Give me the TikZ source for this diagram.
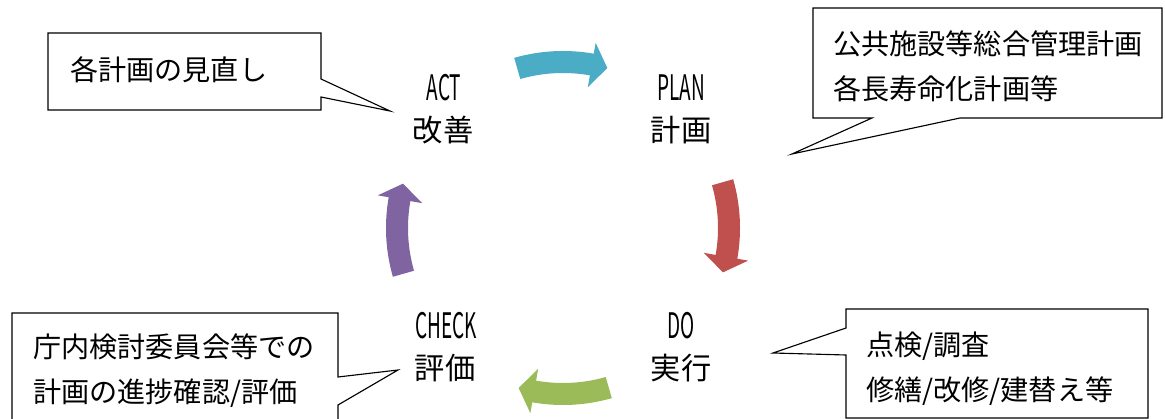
\documentclass[tikz,border=0pt]{standalone}
\usepackage{fontspec}
\newfontfamily\jpfont{Noto Sans CJK JP}
\newfontfamily\phasefont[FakeStretch=0.54]{Noto Sans CJK JP}
\definecolor{actcol}{HTML}{4BACC6}
\definecolor{plancol}{HTML}{C0504D}
\definecolor{docol}{HTML}{9BBB59}
\definecolor{checkcol}{HTML}{8064A2}
\tikzset{callout/.style={draw=black, line width=0.8pt, fill=white},
         note/.style={font=\jpfont\fontsize{20}{32}\selectfont, align=left, anchor=west, inner sep=0pt},
         phase/.style={font=\phasefont\fontsize{25}{25}\selectfont, inner sep=0pt},
         phasejp/.style={font=\jpfont\fontsize{21.5}{21.5}\selectfont, inner sep=0pt}
}

\begin{document}
\begin{tikzpicture}[x=0.025cm, y=-0.025cm]
        \clip (0,0) rectangle (1165,419);
        % cycle arrows
        \foreach \a/\c in {254/actcol, 344/plancol, 74/docol, 164/checkcol}
          \fill [\c, shift={(563,228)}] (\a:155) arc [start angle=\a, end angle=\a+26, radius=155] -- ({\a+26}:143) -- ({\a+31.5}:166) -- ({\a+26}:188) -- ({\a+26}:177) arc [start angle=\a+26, end angle=\a, radius=177] -- cycle;
        % phases
        \node [phase] (actEn) at (444,88) {ACT};
        \node [phasejp] (act) at (443,130) {改善};
        \node [phase] (planEn) at (681,88) {PLAN};
        \node [phasejp] (plan) at (681,130) {計画};
        \node [phase] (doEn) at (681,326) {DO};
        \node [phasejp] (do) at (681,368) {実行};
        \node [phase] (checkEn) at (446,326) {CHECK};
        \node [phasejp] (check) at (445,368) {評価};
        % callouts
        \draw [callout] (48,33) -- (321,33) -- (321,79) -- (390,111) -- (321,97) -- (321,110) -- (48,110) -- cycle;
        \node [note] (actNote) at (70,70) {各計画の見直し};
        \draw [callout] (813,8) -- (1162,8) -- (1162,118) -- (960,118) -- (792,154) -- (872,118) -- (813,118) -- cycle;
        \node [note] (planNote) at (833,66) {公共施設等総合管理計画\\各長寿命化計画等};
        \draw [callout] (846,309) -- (1148,309) -- (1148,418) -- (846,418) -- (846,355) -- (773,353) -- (846,328) -- cycle;
        \node [note] (doNote) at (866,369) {点検/調査\\修繕/改修/建替え等};
        \draw [callout] (12,313) -- (338,313) -- (338,377) -- (398,370) -- (338,405) -- (338,430) -- (12,430) -- cycle;
        \node [note] (checkNote) at (33,371) {庁内検討委員会等での\\計画の進捗確認/評価};
      \end{tikzpicture}
\end{document}
